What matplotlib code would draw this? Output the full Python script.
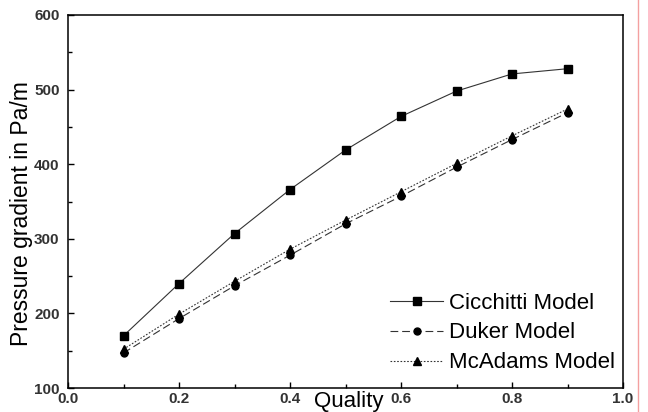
import matplotlib
matplotlib.use("Agg")
import matplotlib.pyplot as plt
from matplotlib.lines import Line2D

quality = [0.1, 0.2, 0.3, 0.4, 0.5, 0.6, 0.7, 0.8, 0.9]
cicchitti = [170, 240, 307, 366, 419, 464, 498, 521, 528]
duker = [147, 193, 237, 278, 320, 357, 396, 433, 469]
mcadams = [152, 199, 243, 286, 325, 363, 401, 438, 474]
labels = ["Cicchitti Model", "Duker Model", "McAdams Model"]
xticks = [0.0, 0.2, 0.4, 0.6, 0.8, 1.0]
yticks = [100, 200, 300, 400, 500, 600]

plt.rcParams['font.family'] = ['Liberation Sans', 'DejaVu Sans']

W, H = 648, 412
fig = plt.figure(figsize=(W / 100, H / 100), dpi=100)
ax = fig.add_axes([68 / W, 1 - 388 / H, 555 / W, 373 / H])

lc = '#333333'
ax.plot(quality, cicchitti, color=lc, lw=0.8, ls='-', marker='s', ms=5.5,
        mfc='black', mec='black', label=labels[0])
ax.plot(quality, duker, color=lc, lw=0.8, ls=(0, (7, 3.5)), marker='o', ms=5,
        mfc='black', mec='black', label=labels[1])
ax.plot(quality, mcadams, color=lc, lw=0.8, ls=(0, (1.5, 1.5)), marker='^', ms=6,
        mfc='black', mec='black', label=labels[2])

ax.set_xlim(0, 1.0)
ax.set_ylim(100, 600)
ax.set_xticks(xticks)
ax.set_xticklabels([f"{v:.1f}" for v in xticks])
ax.set_yticks(yticks)
ax.set_xticks([0.1, 0.3, 0.5, 0.7, 0.9], minor=True)
ax.set_yticks([150, 250, 350, 450, 550], minor=True)
ax.tick_params(which='both', direction='in', top=False, right=False, width=1.0)
ax.tick_params(which='major', length=4.5)
ax.tick_params(which='minor', length=3)
ax.tick_params(axis='x', pad=3)
ax.tick_params(axis='y', pad=6)
for lab in ax.get_xticklabels() + ax.get_yticklabels():
    lab.set_fontsize(11)
    lab.set_fontweight('bold')
    lab.set_color('#333333')
for s in ax.spines.values():
    s.set_linewidth(1.1)

fig.text(349 / W, 1 - 402 / H, "Quality", fontsize=16, ha='center', va='center')
fig.text(22 / W, 1 - 214 / H, "Pressure gradient in Pa/m", fontsize=16.5,
         rotation=90, ha='center', va='center')

leg = ax.legend(loc='center left', bbox_to_anchor=(390 / W, 1 - 333 / H),
                bbox_transform=fig.transFigure, frameon=False, fontsize=16,
                handlelength=2.4, handletextpad=0.25, labelspacing=0.4,
                borderpad=0, borderaxespad=0)

fig.add_artist(Line2D([638 / W, 638 / W], [0, 1], transform=fig.transFigure,
                      color='#f4a0a0', lw=1.0))

fig.savefig("out.png", dpi=100)
